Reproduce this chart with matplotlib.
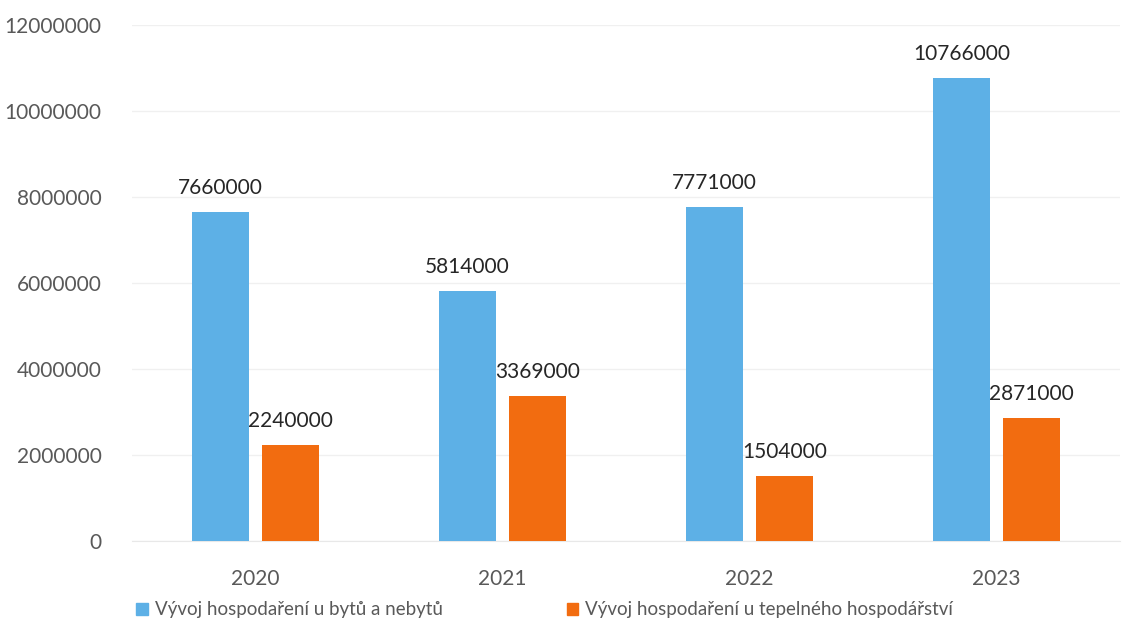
import matplotlib.pyplot as plt
import numpy as np
from matplotlib.patches import Patch

years = ['2020', '2021', '2022', '2023']
byty = [7660000, 5814000, 7771000, 10766000]
teplo = [2240000, 3369000, 1504000, 2871000]
labels = ['Vývoj hospodaření u bytů a nebytů', 'Vývoj hospodaření u tepelného hospodářství']

blue = '#5DB0E6'
orange = '#F26C10'
grey = '#595959'

plt.rcParams['font.family'] = ['Lato', 'DejaVu Sans']

fig = plt.figure(figsize=(11.45, 6.36), dpi=100)
ax = fig.add_axes([0.1153, 0.1494, 0.8627, 0.8113])

x = np.arange(len(years))
w = 0.23
off = 0.142
b1 = ax.bar(x - off, byty, w, color=blue, zorder=3)
b2 = ax.bar(x + off, teplo, w, color=orange, zorder=3)

# popisky hodnot nad sloupci
for bars, vals in ((b1, byty), (b2, teplo)):
    for r, v in zip(bars, vals):
        ax.annotate(str(v), (r.get_x() + r.get_width() / 2, v), xytext=(0, 10),
                    textcoords='offset points', ha='center', va='bottom',
                    fontsize=15, color='#262626')

ax.set_xlim(-0.5, 3.5)
ax.set_ylim(0, 12000000)
ax.set_yticks(np.arange(0, 12000001, 2000000))
ax.set_yticklabels([str(v) for v in range(0, 12000001, 2000000)])
ax.set_xticks(x)
ax.set_xticklabels(years)
ax.tick_params(axis='y', length=0, pad=22, labelsize=15, labelcolor=grey)
ax.tick_params(axis='x', length=0, pad=20, labelsize=15, labelcolor=grey)
ax.grid(axis='y', color='#f0f0f0', linewidth=1, zorder=0)
for s in ['top', 'right', 'left']:
    ax.spines[s].set_visible(False)
ax.spines['bottom'].set_color('#e8e8e8')

handles = [Patch(color=blue), Patch(color=orange)]
fig.legend(handles, labels, loc='center left', bbox_to_anchor=(0.119, 0.041),
           ncol=2, frameon=False, fontsize=13.5, labelcolor=grey,
           handlelength=0.6, handleheight=0.6, handletextpad=0.4,
           columnspacing=6.6, borderpad=0, borderaxespad=0)

fig.savefig('out.png', dpi=100)
